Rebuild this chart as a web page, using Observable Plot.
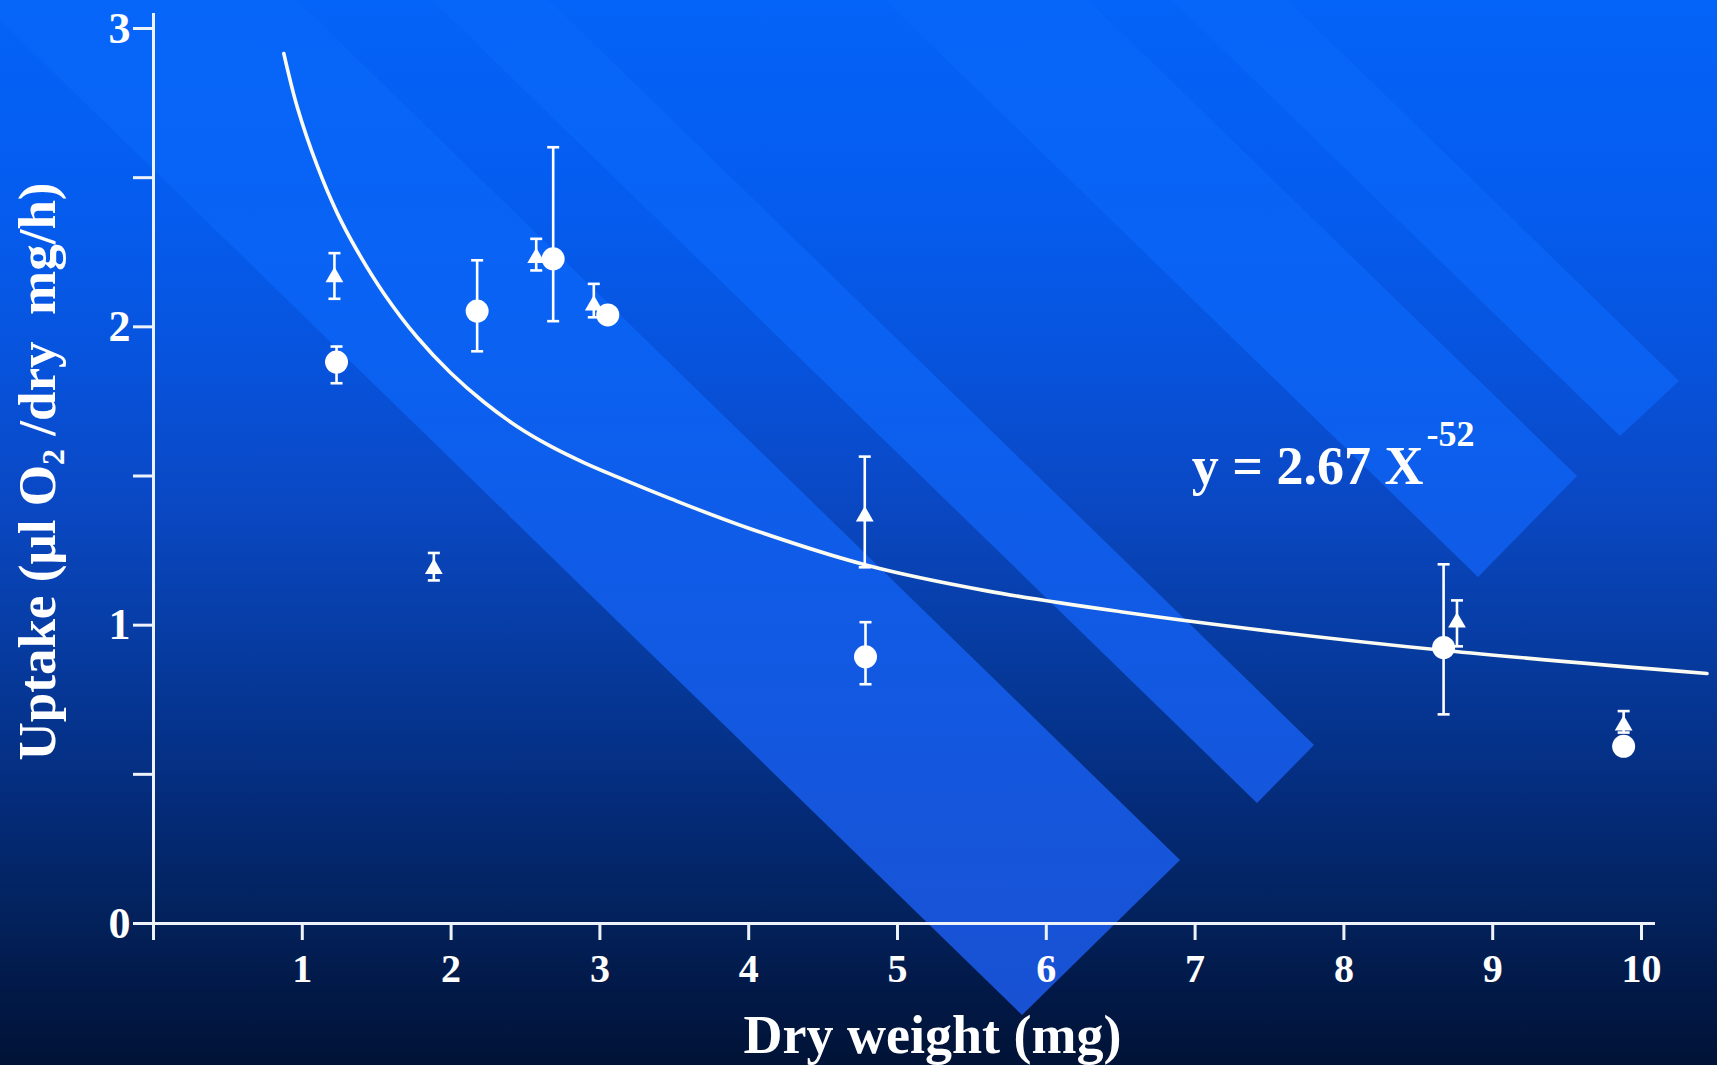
<!DOCTYPE html>
<html>
<head>
<meta charset="utf-8">
<script src="https://cdn.jsdelivr.net/npm/d3@7"></script>
<script src="https://cdn.jsdelivr.net/npm/@observablehq/plot@0.6"></script>
<style>
  html, body { margin: 0; padding: 0; width: 1717px; height: 1065px; overflow: hidden; }
  body {
    background-color: #0a46be;
    background-repeat: no-repeat;
    background-size: 1717px 1065px;
  }
  #chart svg { display: block; }
</style>
</head>
<body>
<div id="chart"></div>
<script>
// ---------------- data ----------------
// circles
const circleX    = [1.23, 2.175, 2.686, 3.053, 4.785, 8.67, 9.88];
const circleY    = [1.882, 2.053, 2.228, 2.040, 0.894, 0.925, 0.594];
const circleLow  = [1.811, 1.918, 2.019, null, 0.802, 0.701, null];
const circleHigh = [1.934, 2.223, 2.602, null, 1.010, 1.204, null];
// triangles
const triX    = [1.216, 1.884, 2.572, 2.959, 4.78, 8.76, 9.88];
const triY    = [2.167, 1.189, 2.231, 2.072, 1.365, 1.009, 0.664];
const triLow  = [2.094, 1.150, 2.189, 2.032, 1.194, 0.929, 0.640];
const triHigh = [2.247, 1.242, 2.295, 2.144, 1.565, 1.083, 0.712];
// fitted curve y = 2.67 X^-0.52
const curveX = [0.876, 0.966, 1.10, 1.234, 1.369, 1.548, 1.772, 1.996, 2.22, 2.444, 2.668, 2.892, 3.116, 3.474, 4.0, 4.8, 5.6, 6.5, 7.5, 8.68, 10.44];
const curveY = [2.916, 2.737, 2.540, 2.382, 2.255, 2.112, 1.965, 1.846, 1.748, 1.666, 1.600, 1.545, 1.497, 1.424, 1.325, 1.200, 1.115, 1.045, 0.980, 0.915, 0.838];
// ticks
const xTicks = [0, 1, 2, 3, 4, 5, 6, 7, 8, 9, 10];
const xTickLabels = ["", "1", "2", "3", "4", "5", "6", "7", "8", "9", "10"];
const yTicks = [0, 0.5, 1, 1.5, 2, 2.5, 3];
const yTickLabels = ["0", "", "1", "", "2", "", "3"];
// texts
const xTitle = "Dry weight (mg)";
const yTitle = "Uptake (\u00b5l O2 /dry  mg/h)";
const eqMain = [{x: 8.535, y: 1.472, text: "y = 2.67 X"}];
const eqSup  = [{x: 8.555, y: 1.602, text: "-52"}];
const xAxisEnd = 10.094;
const yAxisTop = 3.05;

// ---------------- background decoration (style only) ----------------
const bandCaps = [
  [[1022, 1015], [1180, 860]],
  [[1257, 803], [1314, 745]],
  [[1478, 577], [1577, 476]],
  [[1620, 436], [1679, 381]]
];
(function decorate() {
  const ux = -0.716, uy = -0.697, L = 2600;
  const polys = bandCaps.map(([a, b]) => {
    const pts = [a, b, [b[0] + ux * L, b[1] + uy * L], [a[0] + ux * L, a[1] + uy * L]];
    return `<polygon points="${pts.map(p => p.map(v => v.toFixed(1)).join(",")).join(" ")}" fill="url(#bg)"/>`;
  }).join("");
  const defs = `<defs><linearGradient id="bg" gradientUnits="userSpaceOnUse" x1="0" y1="0" x2="0" y2="1065">
    <stop offset="0" stop-color="#0666f9"/>
    <stop offset="0.3" stop-color="#0a62f3"/>
    <stop offset="0.55" stop-color="#105be6"/>
    <stop offset="0.8" stop-color="#1655da"/>
    <stop offset="1" stop-color="#1a50d0"/>
  </linearGradient></defs>`;
  const svg = `<svg xmlns="http://www.w3.org/2000/svg" width="1717" height="1065">${defs}${polys}</svg>`;
  const grad = "linear-gradient(180deg, #0463f8 0%, #055cee 20%, #0753dc 34%, #0a48c4 47%, #073ea8 58%, #05348e 68%, #042b78 76%, #03235f 85%, #021a4a 92%, #011336 100%)";
  document.body.style.backgroundImage = `url("data:image/svg+xml;utf8,${encodeURIComponent(svg)}"), ${grad}`;
})();

// ---------------- tables ----------------
const circles = circleX.map((x, i) => ({x, y: circleY[i], lo: circleLow[i], hi: circleHigh[i]}));
const triangles = triX.map((x, i) => ({x, y: triY[i], lo: triLow[i], hi: triHigh[i]}));
const curve = curveX.map((x, i) => ({x, y: curveY[i]}));
const bars = [...triangles, ...circles].filter(d => d.lo != null);
const caps = bars.flatMap(d => [{x: d.x, y: d.lo}, {x: d.x, y: d.hi}]);
const xLabelMap = new Map(xTicks.map((t, i) => [t, xTickLabels[i]]));
const yLabelMap = new Map(yTicks.map((t, i) => [t, yTickLabels[i]]));

const capSymbol = {
  draw(ctx, size) {
    const w = Math.sqrt(size / Math.PI);
    ctx.moveTo(-w, 0);
    ctx.lineTo(w, 0);
  }
};

const axisColor = "#eef2fb";

const plot = Plot.plot({
  width: 1717,
  height: 1065,
  marginLeft: 153,
  marginRight: 76,
  marginTop: 28,
  marginBottom: 142,
  x: {domain: [0, 10]},
  y: {domain: [0, 3]},
  style: {
    background: "transparent",
    color: "white",
    fontFamily: "'Liberation Serif', 'Times New Roman', serif",
    fontWeight: "bold",
    overflow: "visible"
  },
  marks: [
    Plot.line(curve, {x: "x", y: "y", curve: "catmull-rom", stroke: "#fbfbf2", strokeWidth: 3.6}),
    Plot.ruleX(bars, {x: "x", y1: "lo", y2: "hi", stroke: "white", strokeWidth: 2.6}),
    Plot.dot(caps, {x: "x", y: "y", symbol: capSymbol, r: 6, stroke: "white", strokeWidth: 2.6, fill: "none"}),
    Plot.dot(triangles, {x: "x", y: "y", symbol: "triangle", r: 6.6, fill: "white", stroke: "none"}),
    Plot.dot(circles, {x: "x", y: "y", r: 11.5, fill: "white", stroke: "none"}),
    Plot.ruleX([0], {y1: 0, y2: yAxisTop, stroke: axisColor, strokeWidth: 3}),
    Plot.ruleY([0], {x1: 0, x2: xAxisEnd, stroke: axisColor, strokeWidth: 3}),
    Plot.axisY({ticks: yTicks, tickFormat: d => yLabelMap.get(d), tickSize: 20, tickPadding: 3,
      fontSize: 44, stroke: axisColor, strokeWidth: 3, fill: "white", label: null}),
    Plot.axisX({ticks: xTicks, tickFormat: d => xLabelMap.get(d), tickSize: 17, tickPadding: 13,
      fontSize: 40, stroke: axisColor, strokeWidth: 3, fill: "white", label: null}),
    Plot.text([xTitle], {frameAnchor: "bottom", textAnchor: "middle", dx: 35, dy: 129, lineAnchor: "bottom", fontSize: 54, fill: "white"}),
    Plot.text([yTitle], {frameAnchor: "left", textAnchor: "middle", rotate: -90, dx: -115, dy: -4.5, lineAnchor: "middle", fontSize: 53, fill: "white"}),
    Plot.text(eqMain, {x: "x", y: "y", text: "text", textAnchor: "end", lineAnchor: "bottom", fontSize: 54, fill: "white"}),
    Plot.text(eqSup, {x: "x", y: "y", text: "text", textAnchor: "start", lineAnchor: "bottom", fontSize: 36, fill: "white"})
  ]
});

// subscript in the y title
d3.select(plot).selectAll("text").filter(function () { return this.textContent === yTitle; })
  .each(function () {
    const t = d3.select(this);
    t.text(null).style("white-space", "pre").attr("text-anchor", "middle");
    t.append("tspan").text("Uptake (\u00b5l O");
    t.append("tspan").attr("font-size", 32).attr("dy", 9).text("2");
    t.append("tspan").attr("dy", -9).text(" /dry  mg/h)");
  });

document.getElementById("chart").appendChild(plot);
</script>
</body>
</html>
